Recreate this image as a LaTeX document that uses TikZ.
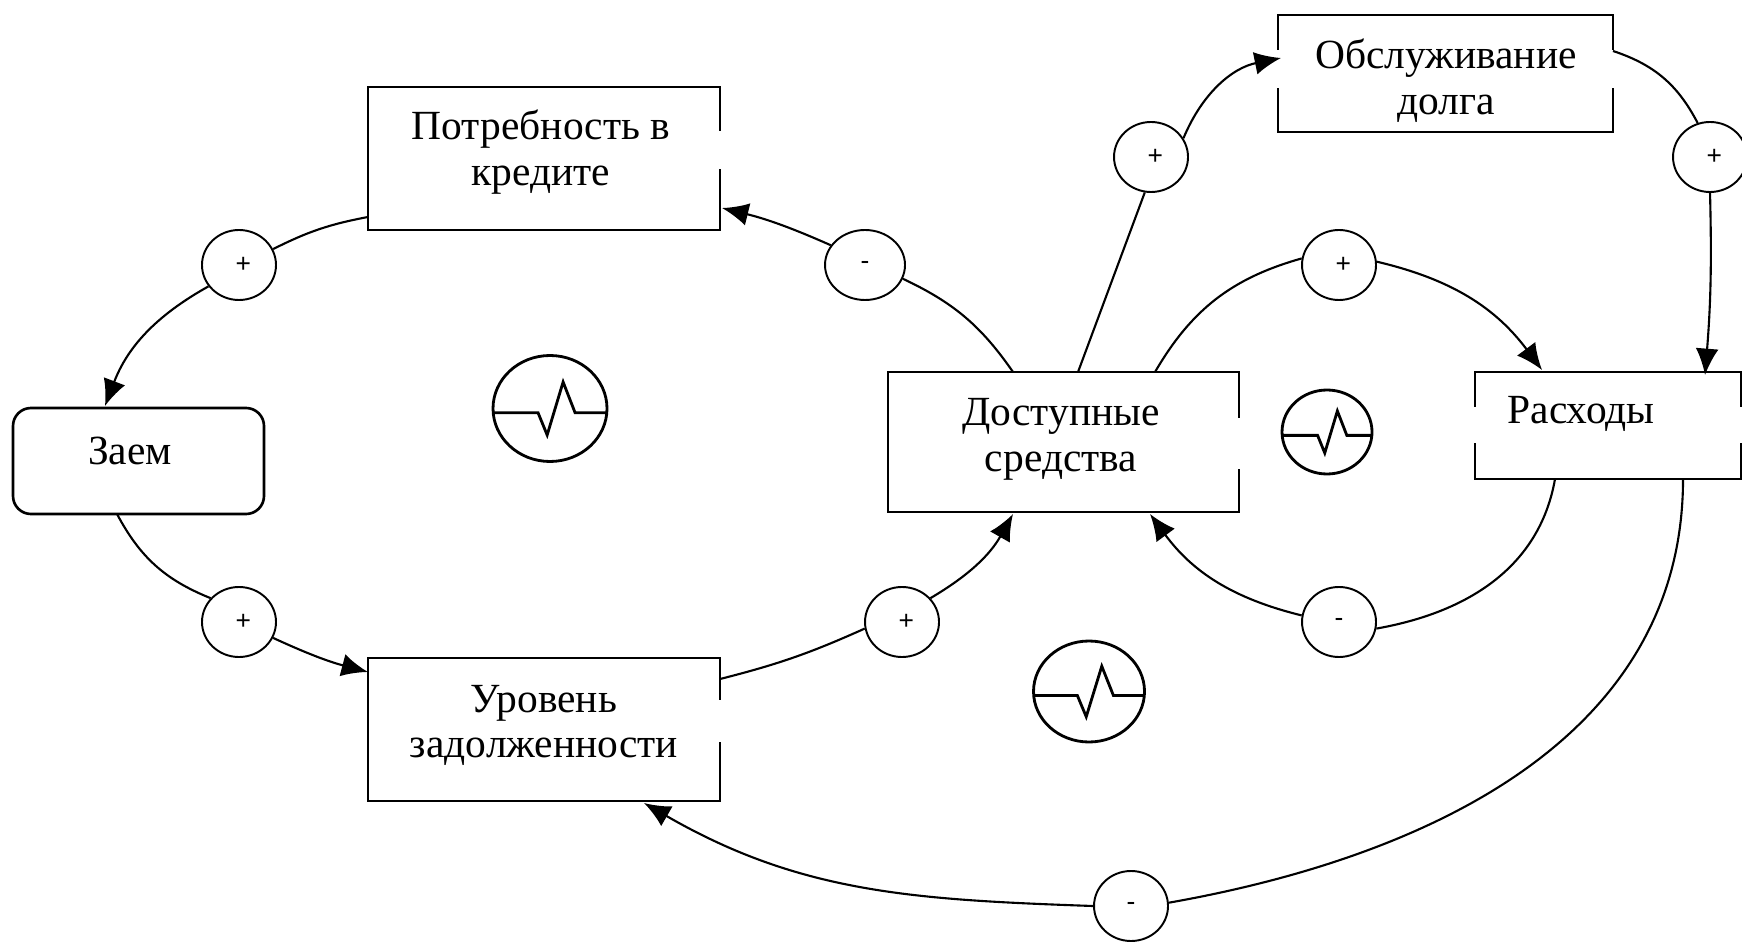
\documentclass[tikz,border=0pt]{standalone}
\usepackage{fontspec}
\setmainfont{Liberation Serif}
\setsansfont{Liberation Sans}
\usetikzlibrary{arrows.meta,shapes.geometric}

\tikzset{
  boxnode/.style={draw,rectangle,line width=0.75pt,inner sep=0pt},
  textnode/.style={align=center,inner sep=0pt,font=\fontsize{11.8}{13}\selectfont},
  signnode/.style={draw,ellipse,line width=0.55pt,fill=white,inner sep=0pt,minimum width=0.74cm,minimum height=0.70cm,
    font=\sffamily\fontsize{7.5}{8}\selectfont},
  plusnode/.style={signnode,execute at begin node={\hspace*{2.5pt}}},
  wide/.style={minimum width=0.80cm},
  gap/.style={white,line width=2pt},
  link/.style={line width=0.6pt},
  linkarrow/.style={line width=0.6pt,-{Latex[length=7.5pt,width=6.5pt]}},
  pulseicon/.pic={
    \draw[line width=0.8pt] (0,0) circle [radius=1cm];
    \draw[line width=0.8pt] (-1,-0.08) -- (-0.21,-0.08) -- (-0.05,-0.5) -- (0.23,0.5) -- (0.44,-0.08) -- (1,-0.08);
  }
}

\begin{document}
\begin{tikzpicture}
  \useasboundingbox (0,0) rectangle (17.42,-9.42);

  \node[boxnode,minimum width=3.52cm,minimum height=1.43cm] (potrebnost) at (5.44,-1.585) {};
  \node[boxnode,rounded corners=0.18cm,minimum width=2.51cm,minimum height=1.06cm] (zaem) at (1.385,-4.61) {};
  \node[boxnode,minimum width=3.52cm,minimum height=1.43cm] (uroven) at (5.44,-7.295) {};
  \node[boxnode,minimum width=3.51cm,minimum height=1.40cm] (dostup) at (10.635,-4.42) {};
  \node[boxnode,minimum width=3.35cm,minimum height=1.17cm] (obsl) at (14.455,-0.735) {};
  \node[boxnode,minimum width=2.66cm,minimum height=1.07cm] (rashod) at (16.08,-4.255) {};

  \draw[gap] (7.20,-1.31) -- (7.20,-1.69);
  \draw[gap] (7.20,-7.00) -- (7.20,-7.42);
  \draw[gap] (12.39,-4.18) -- (12.39,-4.69);
  \draw[gap] (12.78,-0.50) -- (12.78,-0.88);
  \draw[gap] (16.13,-0.50) -- (16.13,-0.88);
  \draw[gap] (14.75,-4.07) -- (14.75,-4.43);
  \draw[gap] (17.41,-4.07) -- (17.41,-4.43);

  \node[textnode] (potrebnostText) at (5.41,-1.52) {Потребность в\\кредите};
  \node[textnode] (zaemText) at (1.30,-4.51) {Заем};
  \node[textnode] (urovenText) at (5.44,-7.255) {Уровень\\задолженности};
  \node[textnode] (dostupText) at (10.61,-4.395) {Доступные\\средства};
  \node[textnode] (obslText) at (14.46,-0.81) {Обслуживание\\долга};
  \node[textnode] (rashodText) at (15.81,-4.14) {Расходы};

  \node[plusnode] (plusA) at (2.39,-2.65) {+};
  \node[signnode,wide] (minusA) at (8.65,-2.65) {-};
  \node[plusnode] (plusB) at (2.39,-6.22) {+};
  \node[plusnode] (plusC) at (9.02,-6.22) {+};
  \node[plusnode] (plusD) at (11.51,-1.57) {+};
  \node[plusnode] (plusE) at (13.39,-2.65) {+};
  \node[plusnode] (plusF) at (17.10,-1.57) {+};
  \node[signnode] (minusB) at (13.39,-6.22) {-};
  \node[signnode] (minusC) at (11.31,-9.06) {-};

  \coordinate (potrebnostL) at (3.68,-2.17);
  \coordinate (potrebnostR) at (7.22,-2.08);
  \coordinate (zaemT) at (1.05,-4.06);
  \coordinate (zaemB) at (1.17,-5.14);
  \coordinate (urovenL) at (3.68,-6.72);
  \coordinate (urovenR) at (7.20,-6.79);
  \coordinate (urovenB) at (6.44,-8.03);
  \coordinate (dostupTA) at (10.13,-3.72);
  \coordinate (dostupTB) at (10.78,-3.72);
  \coordinate (dostupTC) at (11.55,-3.72);
  \coordinate (dostupBA) at (10.13,-5.14);
  \coordinate (dostupBB) at (11.50,-5.14);
  \coordinate (obslL) at (12.81,-0.58);
  \coordinate (obslR) at (16.13,-0.51);
  \coordinate (rashodTA) at (15.42,-3.70);
  \coordinate (rashodTB) at (17.05,-3.75);
  \coordinate (rashodBA) at (15.55,-4.79);
  \coordinate (rashodBB) at (16.83,-4.79);

  \draw[link] (potrebnostL) to[bend right=8] (plusA.25);
  \draw[linkarrow] (plusA.215) to[bend right=20] (zaemT);
  \draw[link] (zaemB) to[bend right=20] (plusB.140);
  \draw[linkarrow] (plusB.-25) to[bend right=5] (urovenL);
  \draw[link] (urovenR) to[bend right=5] (plusC.190);
  \draw[linkarrow] (plusC.40) to[bend right=15] (dostupBA);
  \draw[link] (dostupTA) to[bend right=15] (minusA.-20);
  \draw[linkarrow] (minusA.150) to[bend right=5] (potrebnostR);
  \draw[link] (dostupTB) -- (plusD.-100);
  \draw[linkarrow] (plusD.30) to[bend left=28] (obslL);
  \draw[link] (obslR) to[bend left=22] (plusF.110);
  \draw[linkarrow] (plusF.-90) to[bend left=3] (rashodTB);
  \draw[link] (dostupTC) to[bend left=22] (plusE.170);
  \draw[linkarrow] (plusE.5) to[bend left=20] (rashodTA);
  \draw[link] (rashodBA) to[out=-100,in=10] (minusB.-10);
  \draw[linkarrow] (minusB.170) to[bend left=20] (dostupBB);
  \draw[link] (rashodBB) to[out=-90,in=10] (minusC.5);
  \draw[linkarrow] (minusC.180) to[out=178,in=-30] (urovenB);

  \pic[xscale=0.57,yscale=0.53] at (5.50,-4.085) {pulseicon};
  \pic[xscale=0.45,yscale=0.42] at (13.27,-4.32) {pulseicon};
  \pic[xscale=0.555,yscale=0.505] at (10.89,-6.915) {pulseicon};

\end{tikzpicture}
\end{document}
